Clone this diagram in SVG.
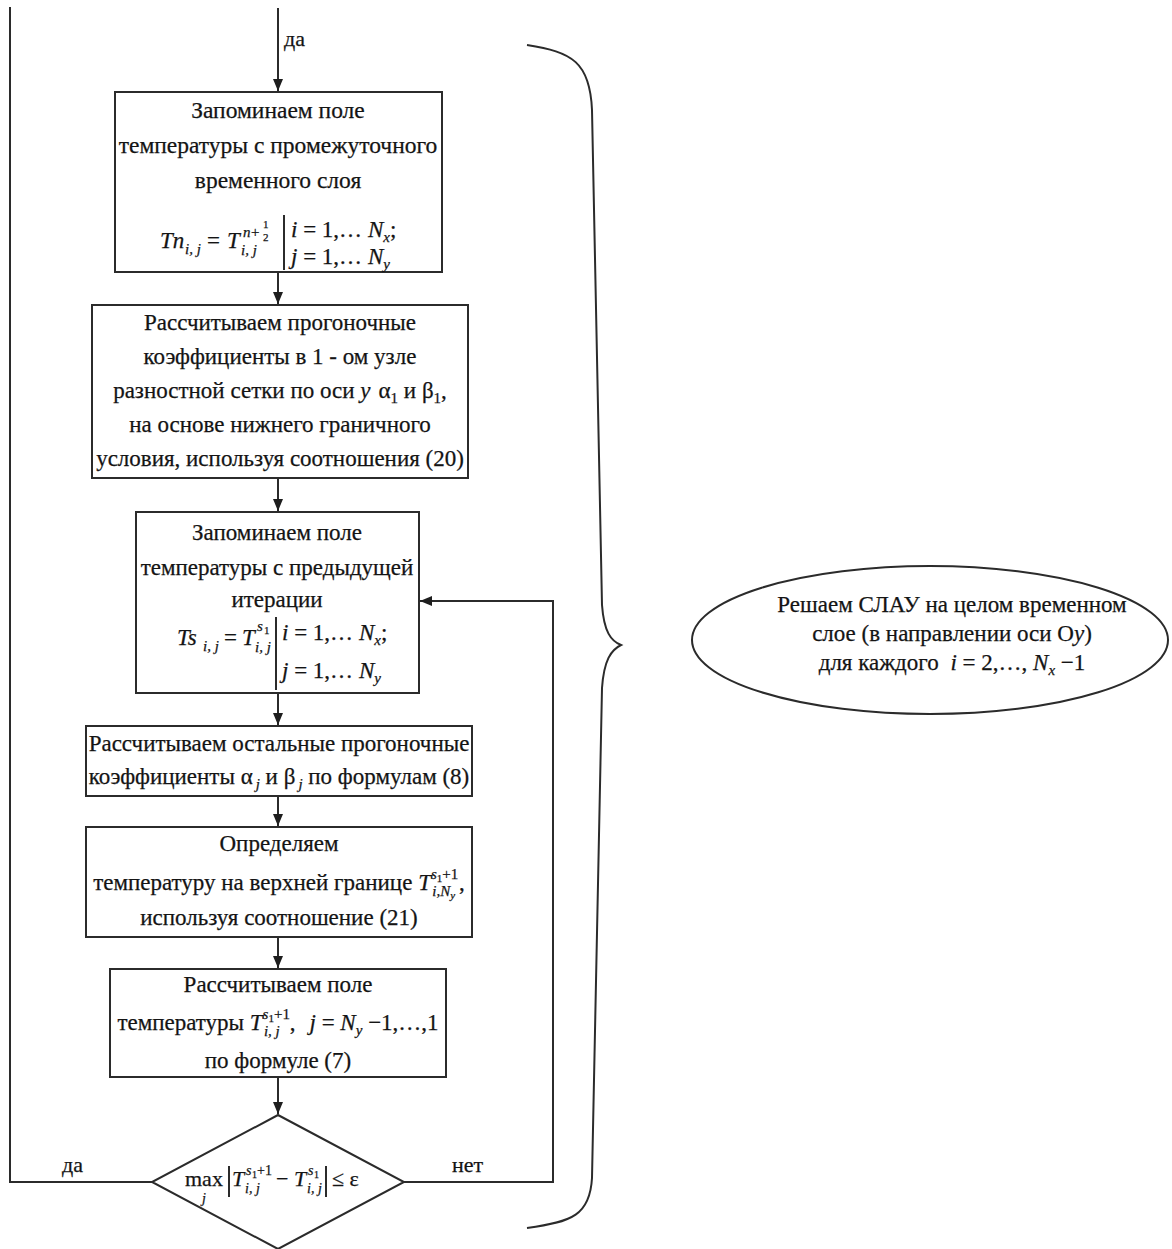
<svg xmlns="http://www.w3.org/2000/svg" width="1172" height="1249" viewBox="0 0 1172 1249">
<defs>
<style>
.t{font-family:"Liberation Serif","Times New Roman",serif;font-size:23px;fill:#141414;stroke:#141414;stroke-width:0.25}
.c{text-anchor:middle}
.i{font-style:italic}
.sb{font-size:15px}
.ss{font-size:11px}
.f{font-size:22px}
.d13{font-size:14px}
.d9{font-size:10px}
.box{fill:#fff;stroke:#2b2b2b;stroke-width:2}
.ln{fill:none;stroke:#2b2b2b;stroke-width:2}
</style>
<marker id="ah" markerWidth="12" markerHeight="12" viewBox="0 0 12 12" refX="12" refY="6" orient="auto" markerUnits="userSpaceOnUse"><path d="M0,1 L12,6 L0,11 Z" fill="#1e1e1e"/></marker>
</defs>
<rect width="1172" height="1249" fill="#fff"/>

<g id="connectors">
<line class="ln" x1="278" y1="8" x2="278" y2="91" marker-end="url(#ah)"/>
<line class="ln" x1="278" y1="272" x2="278" y2="304" marker-end="url(#ah)"/>
<line class="ln" x1="278" y1="478" x2="278" y2="511" marker-end="url(#ah)"/>
<line class="ln" x1="278" y1="693" x2="278" y2="725" marker-end="url(#ah)"/>
<line class="ln" x1="278" y1="796" x2="278" y2="826" marker-end="url(#ah)"/>
<line class="ln" x1="278" y1="937" x2="278" y2="968" marker-end="url(#ah)"/>
<line class="ln" x1="278" y1="1077" x2="278" y2="1114" marker-end="url(#ah)"/>
<polyline class="ln" points="404,1182 553,1182 553,601 420,601" marker-end="url(#ah)"/>
<polyline class="ln" points="152,1182 10,1182 10,7"/>
<text class="t f" x="284" y="46">да</text>
<text class="t f" x="62" y="1172">да</text>
<text class="t f" x="452" y="1172">нет</text>
</g>

<g id="n1">
<rect class="box" x="115" y="92" width="327" height="180"/>
<text class="t c" x="278" y="118" style="font-size:23.5px">Запоминаем поле</text>
<text class="t c" x="278" y="153" style="font-size:23.5px">температуры с промежуточного</text>
<text class="t c" x="278" y="188" style="font-size:23.5px">временного слоя</text>
<text class="t i" x="160" y="248">Tn</text>
<text class="t i sb" x="185" y="254">i, j</text>
<text class="t" x="207" y="248">=</text>
<text class="t i" x="227" y="248">T</text>
<text class="t i sb" x="241" y="255">i, j</text>
<text class="t i sb" x="243" y="237">n</text>
<text class="t sb" x="251" y="237">+</text>
<text class="t ss" x="263" y="228">1</text>
<text class="t ss" x="263" y="241">2</text>
<line class="ln" x1="284" y1="215" x2="284" y2="270"/>
<text class="t" x="291" y="237"><tspan class="i">i</tspan> = 1,… <tspan class="i">N</tspan><tspan class="i sb" dy="5">x</tspan><tspan dy="-5">;</tspan></text>
<text class="t" x="291" y="264"><tspan class="i">j</tspan> = 1,… <tspan class="i">N</tspan><tspan class="i sb" dy="5">y</tspan></text>
</g>

<g id="n2">
<rect class="box" x="92" y="305" width="376" height="173"/>
<text class="t c" x="280" y="330">Рассчитываем прогоночные</text>
<text class="t c" x="280" y="364">коэффициенты в 1 - ом узле</text>
<text class="t c" x="280" y="398">разностной сетки по оси <tspan class="i">y</tspan><tspan dx="8">α</tspan><tspan class="sb" dy="5">1</tspan><tspan dy="-5"> и β</tspan><tspan class="sb" dy="5">1</tspan><tspan dy="-5">,</tspan></text>
<text class="t c" x="280" y="432">на основе нижнего граничного</text>
<text class="t c" x="280" y="466">условия, используя соотношения (20)</text>
</g>

<g id="n3">
<rect class="box" x="136" y="512" width="283" height="181"/>
<text class="t c" x="277" y="540">Запоминаем поле</text>
<text class="t c" x="277" y="575">температуры с предыдущей</text>
<text class="t c" x="277" y="607">итерации</text>
<text class="t i" x="177" y="645">Ts</text>
<text class="t i sb" x="203" y="651">i, j</text>
<text class="t" x="224" y="645">=</text>
<text class="t i" x="242" y="645">T</text>
<text class="t i sb" x="255" y="652">i, j</text>
<text class="t i sb" x="257" y="631">s</text>
<text class="t ss" x="264" y="634">1</text>
<line class="ln" x1="276" y1="617" x2="276" y2="690"/>
<text class="t" x="282" y="640"><tspan class="i">i</tspan> = 1,… <tspan class="i">N</tspan><tspan class="i sb" dy="5">x</tspan><tspan dy="-5">;</tspan></text>
<text class="t" x="282" y="678"><tspan class="i">j</tspan> = 1,… <tspan class="i">N</tspan><tspan class="i sb" dy="5">y</tspan></text>
</g>

<g id="n4">
<rect class="box" x="86" y="726" width="386" height="70"/>
<text class="t c" x="279" y="751">Рассчитываем остальные прогоночные</text>
<text class="t c" x="279" y="784">коэффициенты α<tspan class="i sb" dx="3" dy="5">j</tspan><tspan dy="-5"> и β</tspan><tspan class="i sb" dx="3" dy="5">j</tspan><tspan dy="-5"> по формулам (8)</tspan></text>
</g>

<g id="n5">
<rect class="box" x="86" y="827" width="386" height="110"/>
<text class="t c" x="279" y="851">Определяем</text>
<text class="t c" x="279" y="890">температуру на верхней границе <tspan class="i">T</tspan><tspan class="i sb" dy="-11">s</tspan><tspan class="ss" dy="3">1</tspan><tspan class="sb" dy="-3">+1</tspan><tspan class="i sb" dx="-26" dy="17">i,N</tspan><tspan class="i ss" dy="3">y</tspan><tspan dx="4" dy="-9">,</tspan></text>
<text class="t c" x="279" y="925">используя соотношение (21)</text>
</g>

<g id="n6">
<rect class="box" x="110" y="969" width="336" height="108"/>
<text class="t c" x="278" y="992">Рассчитываем поле</text>
<text class="t c" x="278" y="1030">температуры <tspan class="i">T</tspan><tspan class="i sb" dy="-11">s</tspan><tspan class="ss" dy="3">1</tspan><tspan class="sb" dy="-3">+1</tspan><tspan class="i sb" dx="-26" dy="17">i, j</tspan><tspan dx="10" dy="-6">,</tspan><tspan class="i" dx="14">j</tspan> = <tspan class="i">N</tspan><tspan class="i sb" dy="5">y</tspan><tspan dy="-5"> −1,…,1</tspan></text>
<text class="t c" x="278" y="1068">по формуле (7)</text>
</g>

<g id="n7">
<polygon class="box" points="278,1115 404,1182 278,1249 152,1182"/>
<text class="t f" x="185" y="1186">max</text>
<text class="t i d13" x="202" y="1203">j</text>
<line class="ln" x1="229" y1="1166" x2="229" y2="1197"/>
<text class="t f i" x="232" y="1186">T</text>
<text class="t i d13" x="246" y="1175">s</text>
<text class="t d9" x="252" y="1178">1</text>
<text class="t d13" x="257" y="1175">+1</text>
<text class="t i d13" x="245" y="1193">i, j</text>
<text class="t f" x="276" y="1186">−</text>
<text class="t f i" x="294" y="1186">T</text>
<text class="t i d13" x="308" y="1175">s</text>
<text class="t d9" x="314" y="1178">1</text>
<text class="t i d13" x="307" y="1193">i, j</text>
<line class="ln" x1="326" y1="1166" x2="326" y2="1197"/>
<text class="t f" x="332" y="1186">≤ ε</text>
</g>

<g id="brace">
<path class="ln" d="M527,45 C572,52 590,62 592,110 L602,605 C604,632 611,641 621,645 C611,650 604,660 602,688 L592,1178 C590,1215 572,1222 527,1228"/>
</g>

<g id="n8">
<ellipse class="box" cx="930" cy="640" rx="238" ry="74"/>
<text class="t c" x="952" y="612">Решаем СЛАУ  на целом временном</text>
<text class="t c" x="952" y="641">слое (в направлении оси O<tspan class="i">y</tspan>)</text>
<text class="t c" x="952" y="670">для каждого <tspan class="i" dx="6">i</tspan> = 2,…, <tspan class="i">N</tspan><tspan class="i sb" dy="5">x</tspan><tspan dy="-5"> −1</tspan></text>
</g>
</svg>
